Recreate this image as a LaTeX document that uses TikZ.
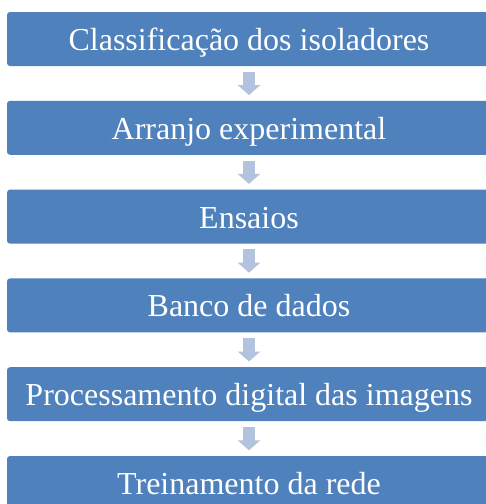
\documentclass[tikz,border=0pt]{standalone}
\usepackage{fontspec}
\usepackage{xcolor}
\setmainfont{Liberation Serif}
\usetikzlibrary{arrows.meta}

\definecolor{caixa}{HTML}{4F81BD}
\definecolor{setacor}{HTML}{B3C3DE}

\tikzset{
  etapa/.style={fill=caixa, rounded corners=3pt, minimum width=484pt, minimum height=54pt,
    inner sep=0pt, text=white, text height=24pt, text depth=1pt,
    font=\fontsize{32}{38}\selectfont},
  seta/.style={draw=setacor, line width=12pt, shorten <=5.5pt, shorten >=5.5pt,
    -{Triangle[width=22pt,length=10pt]}}
}

\begin{document}
\begin{tikzpicture}[x=1pt,y=-1pt]
        \useasboundingbox (0,0) rectangle (486,504);
        \clip (0,0) rectangle (486,504);
        \fill[white] (0,0) rectangle (486,504);
        \node[etapa](a) at (249,39) {Classificação dos isoladores};
        \node[etapa](b) at (249,127.8) {Arranjo experimental};
        \node[etapa](c) at (249,216.6) {Ensaios};
        \node[etapa](d) at (249,305.4) {Banco de dados};
        \node[etapa](e) at (249,394.2) {Processamento digital das imagens};
        \node[etapa](f) at (249,483) {Treinamento da rede};
        \draw[seta](a)--(b);
        \draw[seta](b)--(c);
        \draw[seta](c)--(d);
        \draw[seta](d)--(e);
        \draw[seta](e)--(f);
        \end{tikzpicture}
\end{document}
